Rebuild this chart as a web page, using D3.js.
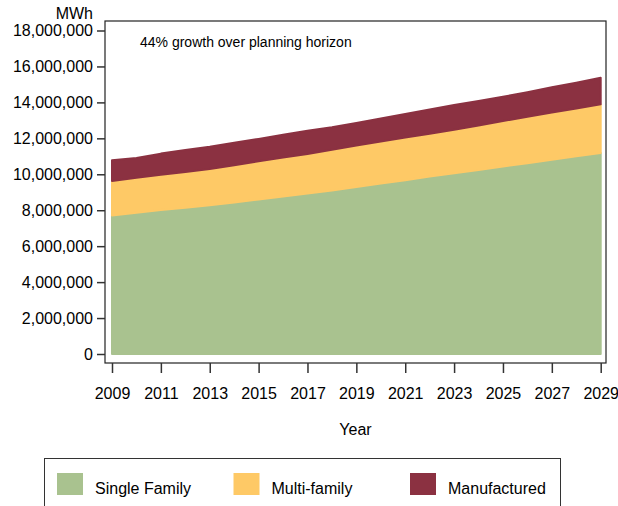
<!DOCTYPE html>
<html>
<head>
<meta charset="utf-8">
<script src="https://cdn.jsdelivr.net/npm/d3@7"></script>
<style>
  body { margin: 0; background: #fff; }
  svg { display: block; font-family: 'Liberation Sans', Arial, sans-serif; }
</style>
</head>
<body>
<div id="chart"></div>
<script>
const years = [2009, 2010, 2011, 2012, 2013, 2014, 2015, 2016, 2017, 2018, 2019,
  2020, 2021, 2022, 2023, 2024, 2025, 2026, 2027, 2028, 2029]

// MWh by housing type
const singleFamily = [7710000, 7860000, 8010000, 8140000, 8270000, 8430000, 8600000,
  8770000, 8930000, 9100000, 9290000, 9480000, 9670000, 9870000, 10050000, 10240000,
  10430000, 10620000, 10810000, 11000000, 11180000]
const multiFamily = [1920000, 1940000, 1960000, 1990000, 2020000, 2070000, 2120000,
  2160000, 2200000, 2260000, 2310000, 2340000, 2370000, 2390000, 2430000, 2480000,
  2530000, 2580000, 2630000, 2660000, 2710000]
const manufactured = [1150000, 1110000, 1180000, 1220000, 1240000, 1250000, 1250000,
  1270000, 1290000, 1260000, 1260000, 1280000, 1310000, 1340000, 1370000, 1360000,
  1350000, 1370000, 1400000, 1440000, 1480000]

const seriesNames = ['Single Family', 'Multi-family', 'Manufactured']
const seriesColors = ['#a9c28f', '#fec966', '#8b3141']
const yTicks = [0, 2000000, 4000000, 6000000, 8000000, 10000000, 12000000,
  14000000, 16000000, 18000000]
const xTicks = [2009, 2011, 2013, 2015, 2017, 2019, 2021, 2023, 2025, 2027, 2029]
const note = '44% growth over planning horizon'

function renderStackedArea(selector, svgWidth, svgHeight) {
  const frame = {left: 105, top: 21, right: 606, bottom: 363}

  const svg = d3.select(selector).append('svg')
    .attr('width', svgWidth)
    .attr('height', svgHeight)

  const table = years.map((year, i) => ({
    year: year,
    'Single Family': singleFamily[i],
    'Multi-family': multiFamily[i],
    'Manufactured': manufactured[i]
  }))

  const stack = d3.stack().keys(seriesNames)
  const layers = stack(table)

  const x = d3.scaleLinear()
    .domain([2009, 2029])
    .range([112, 600.7])
  const y = d3.scaleLinear()
    .domain([0, 18000000])
    .range([354, 30.5])
  const color = d3.scaleOrdinal()
    .domain(seriesNames)
    .range(seriesColors)

  const area = d3.area()
    .x(d => x(d.data.year))
    .y0(d => y(d[0]))
    .y1(d => y(d[1]))

  svg.append('g')
    .selectAll('path')
    .data(layers)
    .enter().append('path')
    .attr('d', area)
    .attr('fill', d => color(d.key))
    .attr('stroke', d => color(d.key))
    .attr('stroke-width', 2)
    .attr('stroke-linejoin', 'round')

  // plot frame
  svg.append('rect')
    .attr('x', frame.left)
    .attr('y', frame.top)
    .attr('width', frame.right - frame.left)
    .attr('height', frame.bottom - frame.top)
    .attr('fill', 'none')
    .attr('stroke', '#222')
    .attr('stroke-width', 1.2)

  const yAxis = d3.axisLeft(y)
    .tickValues(yTicks)
    .tickFormat(d3.format(','))
    .tickSize(8)
    .tickPadding(4)

  const gy = svg.append('g')
    .attr('transform', 'translate(' + frame.left + ',0)')
    .call(yAxis)
  gy.select('.domain').remove()
  gy.selectAll('line').attr('stroke', '#333').attr('stroke-width', 1.5)
  gy.selectAll('text')
    .attr('fill', '#000')
    .style('font-size', '16px')

  const xAxis = d3.axisBottom(x)
    .tickValues(xTicks)
    .tickFormat(d3.format('d'))
    .tickSize(10)
    .tickPadding(15)

  const gx = svg.append('g')
    .attr('transform', 'translate(0,' + frame.bottom + ')')
    .call(xAxis)
  gx.select('.domain').remove()
  gx.selectAll('line').attr('stroke', '#333').attr('stroke-width', 1.5)
  gx.selectAll('text')
    .attr('fill', '#000')
    .style('font-size', '16px')

  svg.append('text')
    .attr('x', 93)
    .attr('y', 19)
    .attr('text-anchor', 'end')
    .attr('fill', '#000')
    .style('font-size', '16px')
    .text('MWh')

  svg.append('text')
    .attr('x', (frame.left + frame.right) / 2)
    .attr('y', 435)
    .attr('text-anchor', 'middle')
    .attr('fill', '#000')
    .style('font-size', '16px')
    .text('Year')

  svg.append('text')
    .attr('x', 140)
    .attr('y', 47)
    .attr('fill', '#000')
    .style('font-size', '14px')
    .text(note)

  // legend
  const legend = svg.append('g')
  legend.append('rect')
    .attr('x', 44.5)
    .attr('y', 458.5)
    .attr('width', 516)
    .attr('height', 70)
    .attr('fill', 'none')
    .attr('stroke', '#333')
    .attr('stroke-width', 1)

  const lx = d3.scalePoint()
    .domain(seriesNames)
    .range([57, 410])

  const item = legend.selectAll('.item')
    .data(seriesNames)
    .enter().append('g')
    .attr('class', 'item')
    .attr('transform', d => 'translate(' + lx(d) + ',473)')

  item.append('rect')
    .attr('width', 26)
    .attr('height', 22)
    .attr('fill', d => color(d))

  item.append('text')
    .attr('x', 38)
    .attr('y', 21)
    .attr('fill', '#000')
    .style('font-size', '16px')
    .text(d => d)
}

renderStackedArea('#chart', 618, 506)
</script>
</body>
</html>
